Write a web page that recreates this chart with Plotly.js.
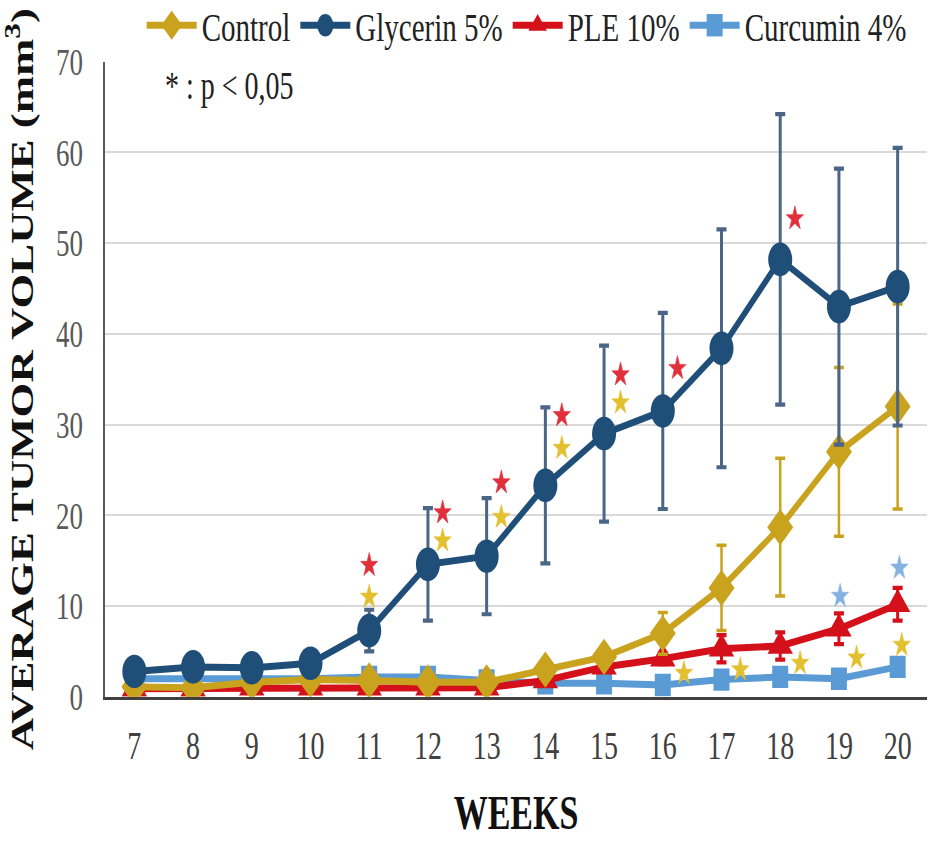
<!DOCTYPE html>
<html>
<head>
<meta charset="utf-8">
<script src="https://cdn.plot.ly/plotly-3.0.1.min.js"></script>
<style>
  html, body { margin: 0; padding: 0; background: #fff; }
  #wrap { width: 935px; height: 848px; position: relative; overflow: hidden; }
  #chart { position: absolute; left: 0; top: 0; width: 935px; height: 606px; transform: scaleY(1.3993); transform-origin: 0 0; }
</style>
</head>
<body>
<div id="wrap"><div id="chart"></div></div>
<script>
// ---- data ----
const weeks = [7, 8, 9, 10, 11, 12, 13, 14, 15, 16, 17, 18, 19, 20];
const weekLabels = ["7", "8", "9", "10", "11", "12", "13", "14", "15", "16", "17", "18", "19", "20"];

const control    = [1.1, 1.0, 1.6, 1.9, 1.8, 1.6, 1.6, 3.0, 4.4, 7.0, 12.0, 18.7, 27.0, 32.0];
const controlErr = [0.3, 0.3, 0.3, 0.3, 0.3, 0.3, 0.3, 0.5, 0.8, 2.3, 4.7, 7.6, 9.3, 11.3];

const glycerin    = [2.8, 3.3, 3.2, 3.7, 7.3, 14.6, 15.5, 23.3, 29.0, 31.5, 38.4, 48.2, 43.0, 45.2];
const glycerinErr = [0.3, 0.3, 0.3, 0.3, 2.3, 6.2, 6.4, 8.6, 9.7, 10.8, 13.1, 16.0, 15.2, 15.3];

const ple    = [0.9, 0.9, 1.0, 1.0, 1.0, 1.0, 1.0, 1.8, 3.3, 4.2, 5.3, 5.6, 7.5, 10.2];
const pleErr = [0.2, 0.2, 0.2, 0.2, 0.2, 0.2, 0.2, 0.3, 0.4, 0.6, 1.5, 1.5, 1.7, 1.8];

const curcumin    = [2.0, 2.0, 2.0, 2.0, 2.2, 2.2, 1.8, 1.5, 1.5, 1.3, 1.9, 2.2, 2.0, 3.3];
const curcuminErr = [0.2, 0.2, 0.2, 0.2, 0.2, 0.2, 0.2, 0.2, 0.2, 0.2, 0.2, 0.2, 0.2, 0.3];

// significance stars (p < 0.05)
const sigRedX = [11, 12.25, 13.25, 14.28, 15.28, 16.25, 18.25];
const sigRedY = [14.5, 20.3, 23.6, 31.0, 35.5, 36.2, 52.7];
const sigGoldX = [11, 12.25, 13.25, 14.28, 15.28, 16.36, 17.32, 18.34, 19.3, 20.07];
const sigGoldY = [11.0, 17.2, 19.8, 27.4, 32.4, 2.6, 3.0, 3.7, 4.3, 5.7];
const sigBlueX = [19.02, 20.03];
const sigBlueY = [11.1, 14.2];

const seriesNames = ["Control", "Glycerin 5%", "PLE 10%", "Curcumin 4%"];
const yTitle = "AVERAGE TUMOR VOLUME (mm<sup>3</sup>)";
const xTitle = "WEEKS";
const noteText = "* : p < 0,05";

// ---- styles ----
const cGold = "#C9A21E", cNavy = "#1F4E79", cRed = "#D4101A", cLight = "#5B9BD5";
const serif = "Liberation Serif, Times New Roman, serif";

function series(name, y, err, color, symbol, size, errColor, errThick, rank) {
  return {
    type: "scatter", mode: "lines+markers", name: name, x: weeks, y: y,
    line: { color: color, width: 5 },
    marker: { color: color, symbol: symbol, size: size },
    error_y: { type: "data", array: err, visible: true, color: errColor, thickness: errThick, width: 5 },
    legendrank: rank
  };
}
function stars(x, y, color) {
  return {
    type: "scatter", mode: "markers", x: x, y: y, showlegend: false, hoverinfo: "skip",
    marker: { symbol: "star", size: 13, color: color, line: { color: color, width: 0.5 } }
  };
}

const data = [
  series(seriesNames[3], curcumin, curcuminErr, cLight, "square", 16, cLight, 2, 4),
  series(seriesNames[2], ple, pleErr, cRed, "triangle-up", 22, cRed, 3, 3),
  series(seriesNames[0], control, controlErr, cGold, "diamond", 20, cGold, 2.5, 1),
  series(seriesNames[1], glycerin, glycerinErr, cNavy, "circle", 24, "#4A6586", 3, 2),
  stars(sigRedX, sigRedY, "#E0303C"),
  stars(sigGoldX, sigGoldY, "#E2C02E"),
  stars(sigBlueX, sigBlueY, "#86B2E2")
];

const layout = {
  width: 935, height: 606,
  margin: { l: 105, r: 8, t: 44, b: 108, autoexpand: false },
  paper_bgcolor: "#fff", plot_bgcolor: "#fff",
  font: { family: serif, color: "#404040" },
  showlegend: true,
  legend: {
    orientation: "h", xref: "paper", x: 0.513, xanchor: "center",
    yref: "container", y: 0.97, yanchor: "middle",
    font: { family: serif, size: 29, color: "#222" }, itemwidth: 50, traceorder: "normal"
  },
  xaxis: {
    range: [6.5, 20.5], tickmode: "array", tickvals: weeks, ticktext: weekLabels,
    showgrid: false, zeroline: false, showline: true, linecolor: "#404040", linewidth: 2.5,
    ticks: "", ticklabelstandoff: 8,
    tickfont: { family: serif, size: 28, color: "#404040" },
    title: { text: xTitle, standoff: 22, font: { family: serif, size: 34, color: "#111", weight: "bold" } }
  },
  yaxis: {
    range: [0, 70], dtick: 10, showgrid: true, gridcolor: "#d9d9d9", gridwidth: 1.5,
    zeroline: false, showline: true, linecolor: "#595959", linewidth: 2.5,
    ticks: "", ticklabelstandoff: 14,
    tickfont: { family: serif, size: 27, color: "#595959" },
    title: { text: yTitle, standoff: 14, font: { family: serif, size: 32, color: "#111", weight: "bold" } }
  },
  annotations: [
    { text: noteText, xref: "paper", yref: "paper", x: 0.152, y: 0.962,
      xanchor: "center", yanchor: "middle", showarrow: false,
      font: { family: serif, size: 28, color: "#222" } }
  ]
};

Plotly.newPlot("chart", data, layout, { staticPlot: true, displayModeBar: false });
</script>
</body>
</html>
